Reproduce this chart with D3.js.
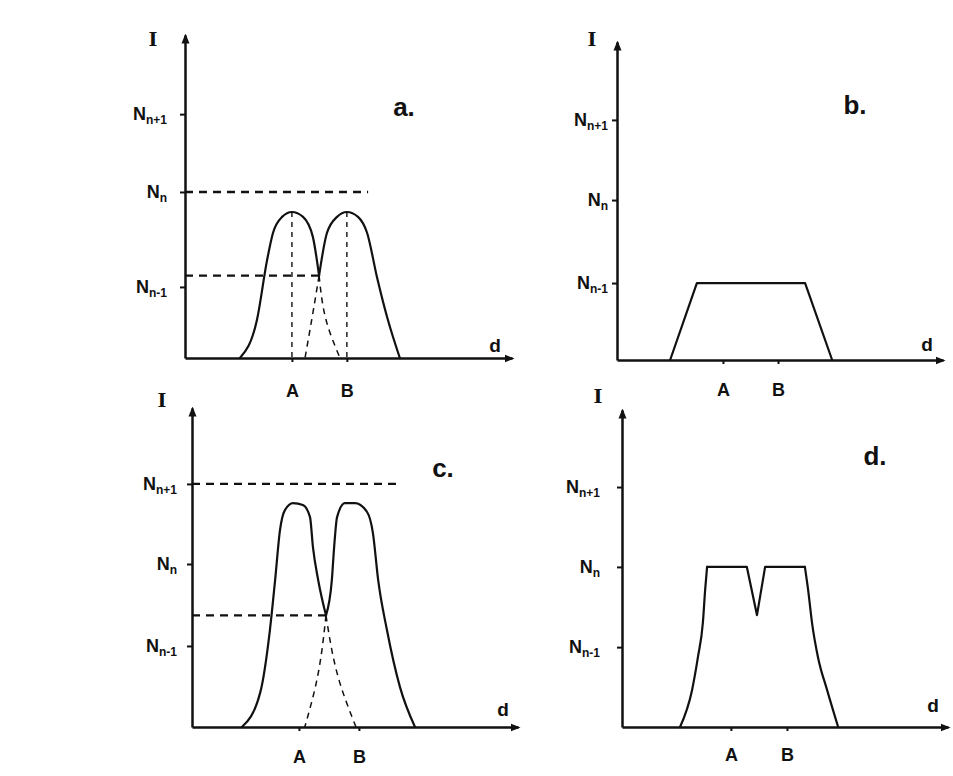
<!DOCTYPE html>
<html>
<head>
<meta charset="utf-8">
<script src="https://cdn.jsdelivr.net/npm/d3@7"></script>
<style>
  body { margin: 0; background: #fff; }
  svg { display: block; }
  text { font-family: "Liberation Sans", Arial, sans-serif; fill: #111; }
</style>
</head>
<body>
<svg id="chart" width="953" height="776"></svg>
<script>
// level names on the intensity axis and point names on the d axis
const levelNames = ["n-1", "n", "n+1"];
const pointNames = ["A", "B"];

// tick values per panel (percent of axis length)
const levelsA = [22.0, 51.4, 75.5];
const levelsB = [24.2, 50.3, 75.5];
const levelsC = [25.4, 51.1, 76.2];
const levelsD = [25.2, 50.5, 75.7];
const pointsA = [32.7, 49.5];
const pointsB = [32.5, 49.4];
const pointsC = [32.8, 51.2];
const pointsD = [33.4, 50.6];

// panel a : two peaks, partially resolved
const aLeftPeak = [[16.8, 0], [22.0, 11.8], [25.1, 30.3], [26.9, 38.7], [29.7, 43.7], [32.7, 45.2], [36.1, 43.7], [39.1, 37.5], [41.0, 25.5]];
const aRightPeak = [[41.0, 25.5], [43.4, 38.7], [46.5, 43.7], [49.5, 45.2], [52.9, 43.7], [55.7, 38.7], [58.7, 25.1], [61.8, 12.7], [65.7, 0]];
const aLeftTail = [[41.0, 25.5], [43.4, 10.8], [47.4, 0]];
const aRightTail = [[41.0, 25.5], [39.1, 13.9], [36.7, 0]];

// panel b : flat plateau
const bPlateau = [[16.3, 0], [24.5, 24.2], [57.7, 24.2], [66.0, 0]];

// panel c : two peaks, well resolved
const cLeftPeak = [[15.3, 0], [20.9, 10.7], [23.9, 30.4], [25.5, 46.1], [27.0, 61.8], [28.5, 68.0], [31.0, 70.2], [34.0, 69.6], [36.2, 65.8], [37.1, 56.4], [38.7, 46.1], [41.1, 35.0]];
const cRightPeak = [[41.1, 35.0], [42.9, 46.1], [43.6, 56.4], [44.5, 65.8], [46.9, 70.2], [50.0, 70.2], [53.7, 67.4], [55.5, 60.8], [57.1, 46.1], [59.8, 30.4], [63.8, 12.5], [68.4, 0]];
const cLeftTail = [[41.1, 35.0], [45.1, 14.7], [50.3, 0]];
const cRightTail = [[41.1, 35.0], [38.3, 14.7], [34.6, 0]];

// panel d : saturated plateau with a notch
const dLeftFlank = [[17.8, 0], [21.5, 11.7], [23.3, 22.1], [24.8, 32.8], [25.5, 43.2], [26.1, 50.5]];
const dTop = [[26.1, 50.5], [38.3, 50.5], [41.4, 35.3], [43.9, 50.5], [56.1, 50.5]];
const dRightFlank = [[56.1, 50.5], [57.1, 43.2], [58.3, 32.8], [60.1, 22.1], [62.9, 11.7], [66.3, 0]];

const svg = d3.select("#chart");

svg.append("defs").append("marker")
  .attr("id", "arrow")
  .attr("viewBox", "0 0 10 10")
  .attr("refX", 8).attr("refY", 5)
  .attr("markerWidth", 4).attr("markerHeight", 4)
  .attr("orient", "auto")
  .append("path").attr("d", "M0,1 L10,5 L0,9 Z").attr("fill", "#111");

const smooth = d3.curveMonotoneX, sharp = d3.curveLinear;

const panels = [
  { letter: "a.", ox: 185, oy: 358, x1: 512, y1: 35, levels: levelsA, points: pointsA, padY: 13, padX: 22,
    I: [153, 46], d: [495, 352], tag: [404, 116],
    solid: [aLeftPeak, aRightPeak], curves: [smooth, smooth], tails: [aLeftTail, aRightTail],
    guides: [[[0, 51.4], [56.0, 51.4]], [[0, 25.5], [41.0, 25.5]]],
    drops: [[[32.7, 45.2], [32.7, 0]], [[49.5, 45.2], [49.5, 0]]] },
  { letter: "b.", ox: 617, oy: 360, x1: 943, y1: 42, levels: levelsB, points: pointsB, padY: 4, padX: 19,
    I: [592, 46], d: [927, 351], tag: [855, 114],
    solid: [bPlateau], curves: [sharp], tails: [], guides: [], drops: [] },
  { letter: "c.", ox: 192, oy: 727, x1: 518, y1: 408, levels: levelsC, points: pointsC, padY: 10, padX: 19,
    I: [162, 407], d: [503, 716], tag: [443, 477],
    solid: [cLeftPeak, cRightPeak], curves: [smooth, smooth], tails: [cLeftTail, cRightTail],
    guides: [[[0, 76.2], [63.8, 76.2]], [[0, 35.0], [41.1, 35.0]]], drops: [] },
  { letter: "d.", ox: 622, oy: 727, x1: 948, y1: 410, levels: levelsD, points: pointsD, padY: 17, padX: 17,
    I: [598, 403], d: [933, 712], tag: [875, 465],
    solid: [dLeftFlank, dTop, dRightFlank], curves: [smooth, sharp, smooth], tails: [], guides: [], drops: [] }
];

panels.forEach(function(p) {
  const g = svg.append("g");
  const x = d3.scaleLinear().domain([0, 100]).range([p.ox, p.x1]);
  const y = d3.scaleLinear().domain([0, 100]).range([p.oy, p.y1]);

  // guides first so the curves sit on top
  const straight = d3.line().x(d => x(d[0])).y(d => y(d[1]));
  p.guides.forEach(function(seg) {
    g.append("path").attr("d", straight(seg))
      .attr("fill", "none").attr("stroke", "#111")
      .attr("stroke-width", 2.4).attr("stroke-dasharray", "8,6");
  });
  p.drops.forEach(function(seg) {
    g.append("path").attr("d", straight(seg))
      .attr("fill", "none").attr("stroke", "#111")
      .attr("stroke-width", 1.4).attr("stroke-dasharray", "5,5");
  });

  const tailLine = d3.line().x(d => x(d[0])).y(d => y(d[1])).curve(d3.curveMonotoneY);
  p.tails.forEach(function(t) {
    g.append("path").attr("d", tailLine(t))
      .attr("fill", "none").attr("stroke", "#111")
      .attr("stroke-width", 1.5).attr("stroke-dasharray", "6,5");
  });

  p.solid.forEach(function(s, i) {
    const line = d3.line().x(d => x(d[0])).y(d => y(d[1])).curve(p.curves[i]);
    g.append("path").attr("d", line(s))
      .attr("fill", "none").attr("stroke", "#111")
      .attr("stroke-width", 2.2).attr("stroke-linejoin", "round").attr("stroke-linecap", "round");
  });

  // intensity axis
  const yAxis = d3.axisLeft(y).tickValues(p.levels).tickSize(5).tickSizeOuter(0)
    .tickPadding(p.padY).tickFormat(() => "");
  const ya = g.append("g").attr("transform", `translate(${p.ox},0)`).call(yAxis);
  ya.select(".domain").attr("stroke", "#111").attr("stroke-width", 2.5).attr("marker-end", "url(#arrow)");
  ya.selectAll(".tick line").attr("stroke", "#111").attr("stroke-width", 2);
  ya.selectAll(".tick text").each(function(d, i) {
    const t = d3.select(this).attr("font-size", 18).attr("font-weight", "bold").attr("fill", "#111");
    t.append("tspan").text("N");
    t.append("tspan").attr("dy", "0.3em").attr("font-size", 12).text(levelNames[i]);
  });

  // distance axis
  const xAxis = d3.axisBottom(x).tickValues(p.points).tickSize(4).tickSizeOuter(0)
    .tickPadding(p.padX).tickFormat((d, i) => pointNames[i]);
  const xa = g.append("g").attr("transform", `translate(0,${p.oy})`).call(xAxis);
  xa.select(".domain").attr("stroke", "#111").attr("stroke-width", 2.5).attr("marker-end", "url(#arrow)");
  xa.selectAll(".tick line").attr("stroke", "#111").attr("stroke-width", 2);
  xa.selectAll(".tick text").attr("font-size", 18).attr("font-weight", "bold").attr("fill", "#111");

  g.append("text").attr("x", p.I[0]).attr("y", p.I[1])
    .attr("text-anchor", "middle").attr("font-size", 19).attr("font-weight", "bold")
    .style("font-family", "'DejaVu Serif', serif").text("I");
  g.append("text").attr("x", p.d[0]).attr("y", p.d[1])
    .attr("text-anchor", "middle").attr("font-size", 19).attr("font-weight", "bold").text("d");
  g.append("text").attr("x", p.tag[0]).attr("y", p.tag[1])
    .attr("text-anchor", "middle").attr("font-size", 26).attr("font-weight", "bold").text(p.letter);
});
</script>
</body>
</html>
